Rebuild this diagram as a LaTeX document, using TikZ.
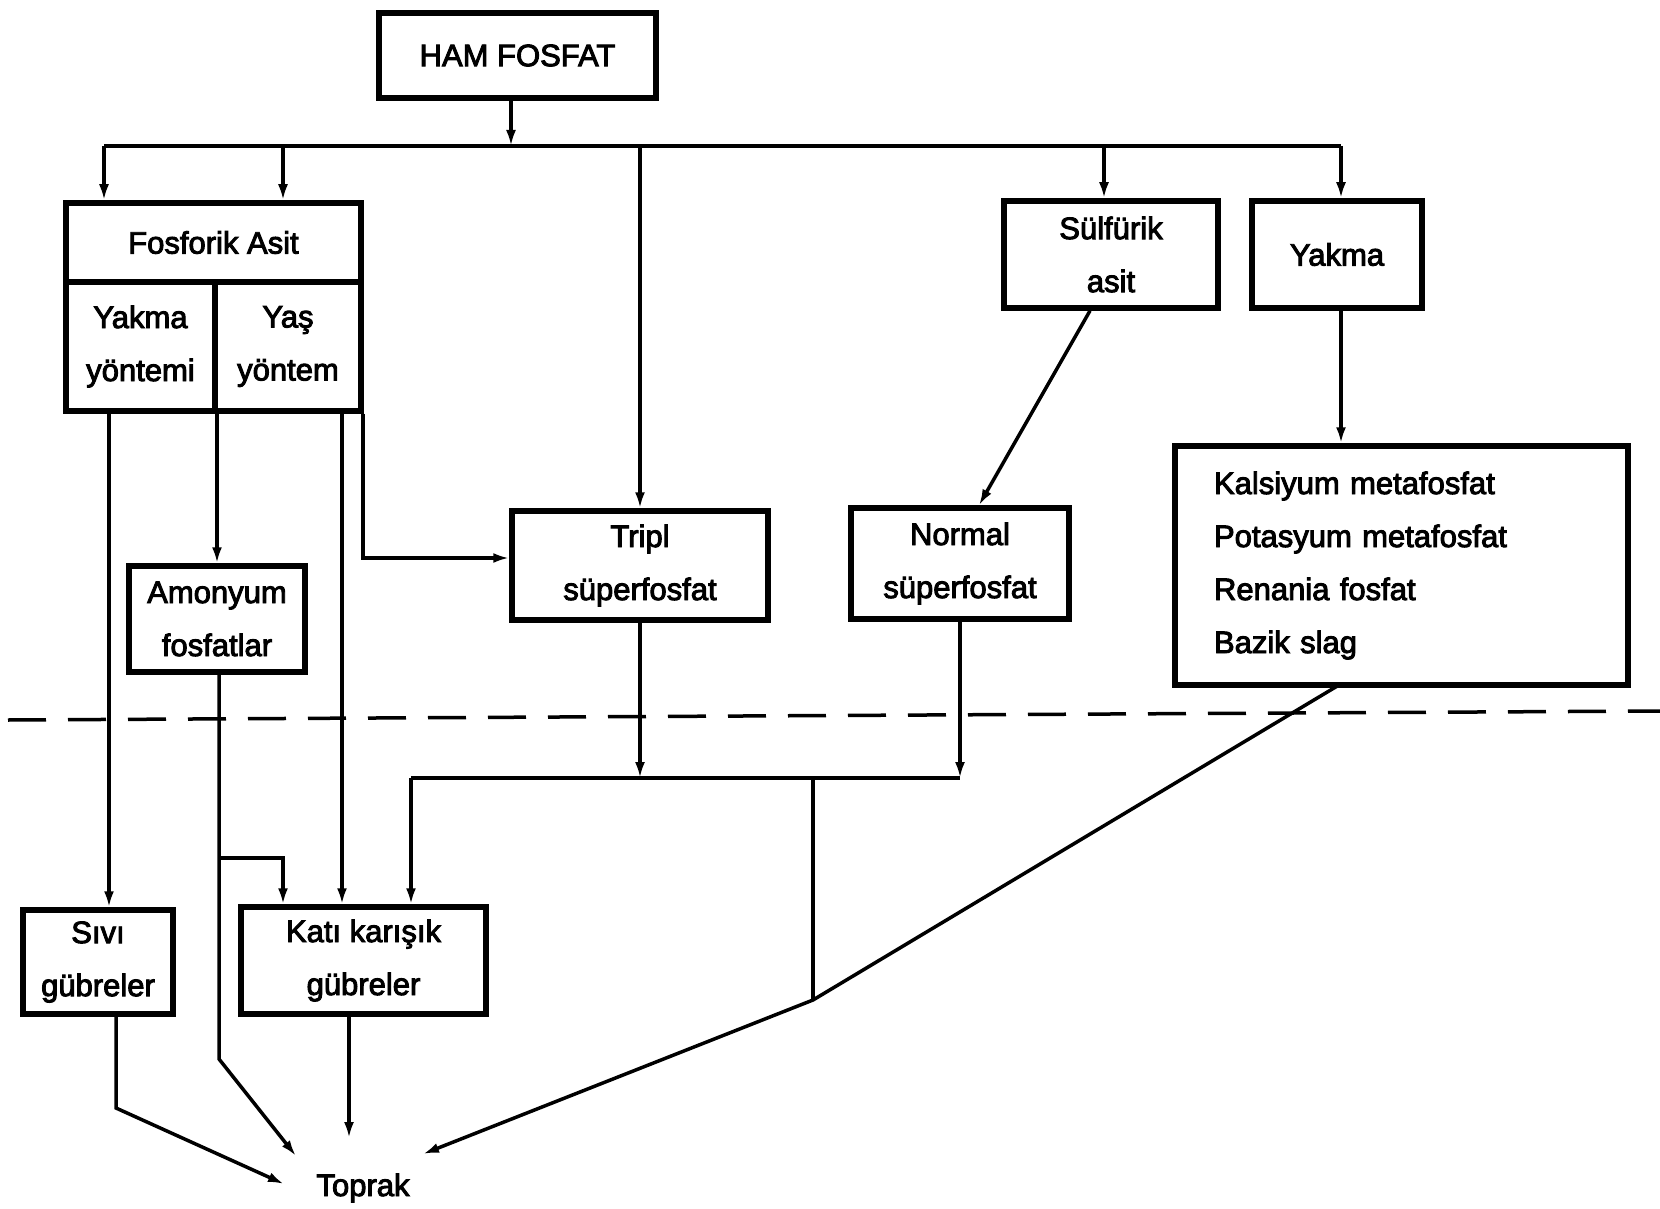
\documentclass[tikz,border=0pt]{standalone}
\usepackage{fontspec}
\setmainfont[BoldFont={Liberation Sans},BoldFeatures={FakeBold=3}]{Liberation Sans}
\usetikzlibrary{arrows.meta}
\newcommand\dgfont{\fontsize{31}{53}\selectfont\bfseries}
\begin{document}
\begin{tikzpicture}[x=1pt,y=-1pt,
  box/.style={draw,line width=5.5pt,align=center,inner sep=0pt,font=\dgfont},
  con/.style={line width=3.5pt},
  arr/.style={con,-{Latex[length=16pt,width=10pt]}},
  dashline/.style={line width=3.5pt,dash pattern=on 38pt off 22pt}]
\useasboundingbox[fill=white] (0,0) rectangle (1660,1209);

% nodes
\node[box,minimum width=277,minimum height=85] (ham) at (517.5,55.5) {HAM FOSFAT};
\node[box,minimum width=295,minimum height=79] (fa) at (213.5,242.5) {Fosforik Asit};
\node[box,minimum width=149,minimum height=129] (yak) at (140.5,346.5) {Yakma\\yöntemi};
\node[box,minimum width=146,minimum height=129] (yas) at (288,346.5) {Yaş\\yöntem};
\node[box,minimum width=214,minimum height=107] (sulf) at (1111,254.5) {Sülfürik\\asit};
\node[box,minimum width=170,minimum height=107] (yakma) at (1337,254.5) {Yakma};
\node[box,align=left,text width=375,inner xsep=39,minimum height=239] (list) at (1401.5,565.5)
  {Kalsiyum metafosfat\\Potasyum metafosfat\\Renania fosfat\\Bazik slag};
\node[box,minimum width=256,minimum height=109] (tripl) at (640,565.5) {Tripl\\süperfosfat};
\node[box,minimum width=218,minimum height=111] (normal) at (960,563.5) {Normal\\süperfosfat};
\node[box,minimum width=176,minimum height=106] (amon) at (217,619) {Amonyum\\fosfatlar};
\node[box,minimum width=150,minimum height=104] (sivi) at (98,962) {Sıvı\\gübreler};
\node[box,minimum width=245,minimum height=107] (kati) at (363.5,960.5) {Katı karışık\\gübreler};
\node[font=\dgfont,inner sep=0pt] (toprak) at (363,1188) {Toprak};

% coordinates
\coordinate (busL) at (104,146);
\coordinate (busF2) at (283,146);
\coordinate (busH) at (511,146);
\coordinate (busS) at (1104,146);
\coordinate (busR) at (1341,146);
\coordinate (c1) at (109,0);
\coordinate (c3) at (342,0);
\coordinate (c4) at (363,558);
\coordinate (a1) at (219,858);
\coordinate (a2) at (219,1059);
\coordinate (a3) at (283,858);
\coordinate (s1) at (116,1108);
\coordinate (k1) at (349,0);
\coordinate (m1) at (411,778);
\coordinate (m2) at (813,778);
\coordinate (m3) at (813,1000);
\coordinate (lb) at (1339,685);
\coordinate (tS) at (284,1184);
\coordinate (tA) at (296,1156);
\coordinate (tK) at (349,1138);
\coordinate (tB) at (423,1154);

% top distribution
\draw[arr] (ham.south -| busH) -- (busH);
\draw[con] (busL) -- (busR);
\draw[arr] (busL) -- (busL |- fa.north);
\draw[arr] (busF2) -- (busF2 |- fa.north);
\draw[arr] (tripl.north |- busL) -- (tripl.north);
\draw[arr] (busS) -- (busS |- sulf.north);
\draw[arr] (busR) -- (busR |- yakma.north);
\draw[arr] (busR |- yakma.south) -- (busR |- list.north);
\draw[arr] ([xshift=-21]sulf.south) -- ([xshift=19]normal.north);

% from fosforik asit
\draw[arr] (c1 |- yak.south) -- (c1 |- sivi.north);
\draw[arr] (amon.north |- yas.south) -- (amon.north);
\draw[arr] (c3 |- yas.south) -- (c3 |- kati.north);
\draw[arr] (c4 |- yas.south) -- (c4) -- (c4 -| tripl.west);

% amonyum
\draw[arr] (amon.south -| a1) -- (a2) -- (tA);
\draw[arr] (a1) -- (a3) -- (a3 |- kati.north);

% superphosphates
\draw[arr] (tripl.south) -- (tripl.south |- m1);
\draw[arr] (normal.south) -- (normal.south |- m1);
\draw[con] (m1) -- (m1 -| normal.south);
\draw[arr] (m1) -- (m1 |- kati.north);
\draw[con] (m2) -- (m3);
\draw[arr] (lb) -- (m3) -- (tB);

% to toprak
\draw[arr] (sivi.south -| s1) -- (s1) -- (tS);
\draw[arr] (k1 |- kati.south) -- (tK);

% dashed boundary
\draw[dashline] (8,720) -- (1660,711);
\end{tikzpicture}
\end{document}
